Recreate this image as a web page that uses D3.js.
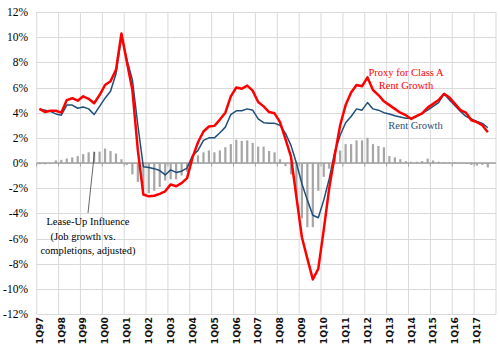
<!DOCTYPE html>
<html>
<head>
<meta charset="utf-8">
<script src="https://cdn.jsdelivr.net/npm/d3@7"></script>
<style>
  body { margin: 0; background: #fff; }
  svg { display: block; }
</style>
</head>
<body>
<div id="chart"></div>
<script>
// quarters 1Q97 .. 4Q17 (data runs through 3Q17)
const years = ["97","98","99","00","01","02","03","04","05","06","07","08","09","10","11","12","13","14","15","16","17"];
const quarters = years.flatMap(y => [1, 2, 3, 4].map(q => q + "Q" + y));
const yearLabels = years.map(y => "1Q" + y);
const yTicks = [-12, -10, -8, -6, -4, -2, 0, 2, 4, 6, 8, 10, 12];

// Proxy for Class A Rent Growth (%)
const classAProxy = [
  4.3, 4.05, 4.15, 4.15, 4.0, 5.0, 5.15, 4.95, 5.3, 5.1,
  4.75, 5.4, 6.2, 6.5, 7.4, 10.3, 8.0, 5.8, 1.0, -2.5,
  -2.65, -2.6, -2.45, -2.25, -1.7, -1.85, -1.6, -1.2, 0.45, 1.65,
  2.5, 2.9, 2.95, 3.45, 4.0, 5.3, 6.0, 5.9, 6.15, 5.75,
  4.85, 4.5, 4.05, 3.95, 3.25, 1.9, 0.5, -2.7, -5.9, -7.6,
  -9.25, -8.4, -5.3, -2.0, 0.6, 3.0, 4.6, 5.6, 6.2, 6.1,
  6.8, 5.8, 5.4, 4.9, 4.6, 4.3, 4.0, 3.8, 3.5, 3.75,
  3.95, 4.4, 4.7, 5.0, 5.5, 5.2, 4.7, 4.2, 4.0, 3.4,
  3.25, 3.0, 2.45
];

// Rent Growth (%)
const rentGrowth = [
  4.3, 4.2, 4.1, 3.9, 3.8, 4.6, 4.6, 4.35, 4.45, 4.3,
  3.85, 4.5, 5.15, 5.7, 7.1, 10.0, 8.2, 6.6, 3.0, -0.3,
  -0.35, -0.45, -0.6, -0.95, -0.55, -0.75, -0.65, -0.4, 0.6, 1.0,
  1.8, 2.0, 2.0, 2.4, 2.85, 3.85, 4.15, 4.15, 4.3, 4.2,
  3.5, 3.2, 3.15, 3.15, 3.0, 2.35, 1.4, 0.0, -1.65, -2.95,
  -4.15, -4.35, -2.95, -1.25, 0.85, 2.2, 3.2, 3.7, 4.3, 4.2,
  4.8, 4.3, 4.2, 4.0, 3.9, 3.75, 3.65, 3.55, 3.55, 3.7,
  3.95, 4.2, 4.5, 4.8, 5.5, 5.0, 4.55, 4.1, 3.7, 3.5,
  3.3, 3.15, 2.8
];

// Lease-Up Influence (job growth vs. completions, adjusted)
const leaseUp = [
  -0.1, -0.1, -0.05, 0.2, 0.25, 0.35, 0.45, 0.55, 0.7, 0.85,
  0.9, 0.9, 1.15, 0.95, 0.75, 0.3, -0.15, -0.9, -1.5, -2.1,
  -2.4, -2.2, -1.9, -1.4, -1.3, -1.3, -1.0, -0.7, 0.1, 0.6,
  0.85, 1.0, 0.85, 1.0, 1.25, 1.5, 1.85, 1.75, 1.8, 1.6,
  1.3, 1.3, 0.95, 0.85, 0.3, -0.25, -0.9, -2.7, -4.4, -5.1,
  -5.1, -2.2, -1.1, -0.45, 0.6, 1.0, 1.5, 1.5, 1.8, 1.8,
  2.0, 1.5, 1.35, 1.25, 0.55, 0.45, 0.3, 0.15, 0.1, 0.1,
  0.15, 0.35, 0.2, 0.1, 0.05, 0.05, 0.05, 0, -0.05, -0.15,
  -0.2, -0.15, -0.35
];

const width = 500;
const height = 350;
const plotLeft = 36.7, plotRight = 496, plotTop = 12, plotBottom = 314;

const svg = d3.select("#chart")
  .append("svg")
    .attr("width", width)
    .attr("height", height);

// scales
const x = d3.scaleBand()
  .domain(quarters)
  .range([plotLeft, plotRight])
  .padding(0);

const y = d3.scaleLinear()
  .domain([-12, 12])
  .range([plotBottom, plotTop]);

const bw = x.bandwidth();
const cx = i => x(quarters[i]) + bw / 2;

// gridlines
const grid = svg.append("g").attr("stroke", "#d9d9d9").attr("stroke-width", 1);
grid.selectAll("line.h")
  .data(yTicks)
  .join("line")
    .attr("class", "h")
    .attr("x1", plotLeft).attr("x2", plotRight)
    .attr("y1", d => Math.round(y(d)) + 0.5)
    .attr("y2", d => Math.round(y(d)) + 0.5);
grid.selectAll("line.v")
  .data(yearLabels.concat(["end"]))
  .join("line")
    .attr("class", "v")
    .attr("x1", d => d == "end" ? plotRight : x(d))
    .attr("x2", d => d == "end" ? plotRight : x(d))
    .attr("y1", plotTop).attr("y2", plotBottom);

// y axis labels
svg.append("g")
  .selectAll("text")
  .data(yTicks)
  .join("text")
    .attr("x", 28)
    .attr("y", d => y(d))
    .attr("dy", "0.35em")
    .attr("text-anchor", "end")
    .style("font-family", "'Liberation Serif', 'Times New Roman', serif")
    .style("font-size", "11.5px")
    .style("fill", "#000")
    .text(d => d + "%");

// x axis labels
svg.append("g")
  .selectAll("text")
  .data(yearLabels)
  .join("text")
    .attr("transform", d => `translate(${x(d) + bw / 2},317) rotate(-90)`)
    .attr("dy", "0.35em")
    .attr("text-anchor", "end")
    .style("font-family", "'DejaVu Sans', Verdana, sans-serif")
    .style("font-weight", "bold")
    .style("font-size", "9.3px")
    .style("fill", "#111")
    .text(d => d);

// lease-up bars
svg.append("g")
  .selectAll("rect")
  .data(leaseUp)
  .join("rect")
    .attr("x", (d, i) => cx(i) - 1.1)
    .attr("width", 2.2)
    .attr("y", d => y(Math.max(0, d)))
    .attr("height", d => Math.abs(y(d) - y(0)))
    .attr("fill", "#a6a6a6");

// zero axis with tick marks
const y0 = y(0);
svg.append("line")
  .attr("x1", plotLeft).attr("x2", plotRight)
  .attr("y1", y0).attr("y2", y0)
  .attr("stroke", "#a0a0a0")
  .attr("stroke-width", 1.5);
svg.append("g")
  .selectAll("line")
  .data(yearLabels)
  .join("line")
    .attr("x1", d => x(d)).attr("x2", d => x(d))
    .attr("y1", y0).attr("y2", y0 + 3.5)
    .attr("stroke", "#a0a0a0")
    .attr("stroke-width", 1);

// lines
const line = d3.line()
  .x((d, i) => cx(i))
  .y(d => y(d));

svg.append("path")
  .datum(rentGrowth)
  .attr("d", line)
  .attr("fill", "none")
  .attr("stroke", "#1f4e79")
  .attr("stroke-width", 1.5)
  .attr("stroke-linejoin", "round");

svg.append("path")
  .datum(classAProxy)
  .attr("d", line)
  .attr("fill", "none")
  .attr("stroke", "#ff0000")
  .attr("stroke-width", 2.5)
  .attr("stroke-linejoin", "round");

// annotations
const serif = "'Liberation Serif', 'Times New Roman', serif";

const redNote = svg.append("text")
  .attr("text-anchor", "middle")
  .style("font-family", serif)
  .style("font-size", "10.5px")
  .style("fill", "#ff0000");
redNote.append("tspan").attr("x", 406).attr("y", 76).text("Proxy for Class A");
redNote.append("tspan").attr("x", 406).attr("y", 88.5).text("Rent Growth");

svg.append("text")
  .attr("x", 415.5).attr("y", 129)
  .attr("text-anchor", "middle")
  .style("font-family", serif)
  .style("font-size", "10.5px")
  .style("fill", "#1f4e79")
  .text("Rent Growth");

svg.append("line")
  .attr("x1", 88).attr("y1", 213)
  .attr("x2", 94.5).attr("y2", 152)
  .attr("stroke", "#404040")
  .attr("stroke-width", 0.8);

const leaseNote = svg.append("text")
  .attr("text-anchor", "middle")
  .style("font-family", serif)
  .style("font-size", "10.5px")
  .style("fill", "#000");
leaseNote.append("tspan").attr("x", 88).attr("y", 225).text("Lease-Up Influence");
leaseNote.append("tspan").attr("x", 83).attr("y", 240).text("(Job growth vs.");
leaseNote.append("tspan").attr("x", 88).attr("y", 254).text("completions, adjusted)");
</script>
</body>
</html>
